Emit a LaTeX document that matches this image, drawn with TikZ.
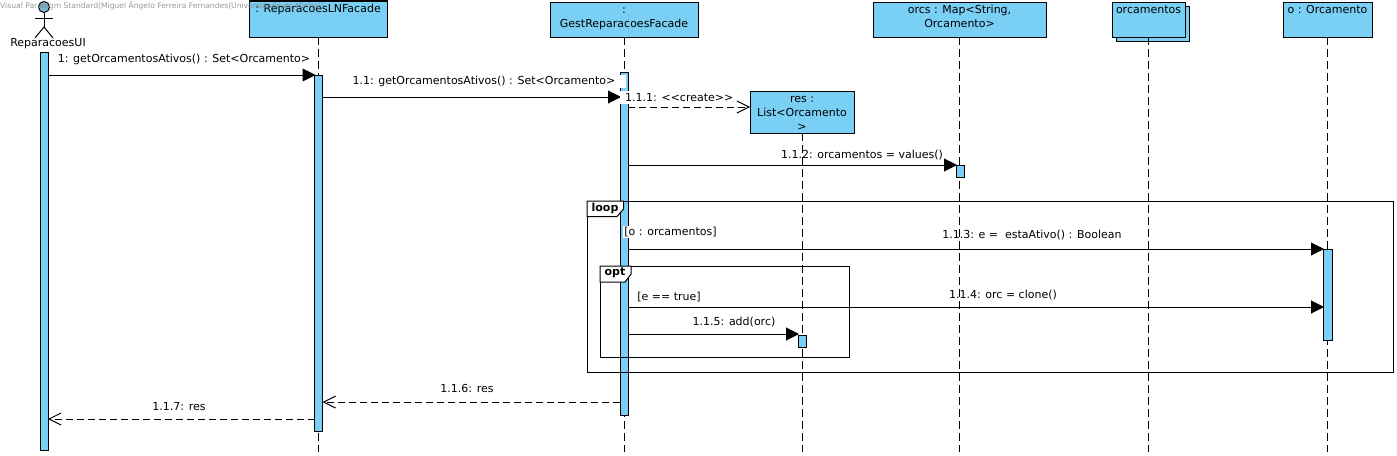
\documentclass[tikz,border=0pt]{standalone}
\usepackage{xcolor}
\usepackage{fontspec}
\setmainfont{DejaVu Sans}
\usetikzlibrary{arrows.meta}
\definecolor{umlblue}{RGB}{122,207,245}
\tikzset{
	lifebox/.style={draw,fill=umlblue,line width=1pt,inner sep=0pt,outer sep=0pt},
	boxtext/.style={anchor=north,align=center,inner sep=0pt,yshift=-1.2pt,font=\fontsize{11}{14}\selectfont},
	bar/.style={draw,fill=umlblue,line width=1pt,inner sep=0pt,outer sep=0pt,anchor=north,minimum width=8pt},
	lifeline/.style={line width=1pt,dash pattern=on 8pt off 4pt},
	syncmsg/.style={line width=1pt,shorten >=-1pt,-{Triangle[length=13pt,width=13pt]}},
	retmsg/.style={line width=1pt,dashed,dash pattern=on 7pt off 4pt,-{Straight Barb[length=12pt,width=12pt,line width=1pt]}},
	msg/.style={font=\fontsize{11}{12}\selectfont,inner sep=1pt,yshift=-0.7pt},
	framebox/.style={draw,line width=1pt,inner sep=0pt,outer sep=0pt,anchor=north west},
	tagtext/.style={font=\fontsize{11}{12}\selectfont\bfseries,inner sep=0pt},
}
\begin{document}
\begin{tikzpicture}[x=1pt,y=-1pt]
	\useasboundingbox (0,0) rectangle (1397,455);
	\fill[white] (0,0) rectangle (1397,455);
	% boxes
	\node[lifebox,minimum width=138pt,minimum height=36pt,label={[boxtext]north:{\strut : ReparacoesLNFacade}}] (lnBox) at (318,19) {};
	\node[lifebox,minimum width=148pt,minimum height=35pt,label={[boxtext]north:{\strut :\\GestReparacoesFacade}}] (gestBox) at (624,19.5) {};
	\node[lifebox,minimum width=173pt,minimum height=35pt,label={[boxtext]north:{\strut orcs : Map<String,\\Orcamento>}}] (orcsBox) at (959.5,19.5) {};
	\node[lifebox,minimum width=73pt,minimum height=35pt] (backBox) at (1152.5,23.5) {};
	\node[lifebox,minimum width=73pt,minimum height=35pt,label={[boxtext]north:{\strut orcamentos}}] (orcamentosBox) at (1148.5,19.5) {};
	\node[lifebox,minimum width=89pt,minimum height=35pt,label={[boxtext]north:{\strut o : Orcamento}}] (oBox) at (1327.5,19.5) {};
	\node[lifebox,minimum width=104pt,minimum height=42pt,label={[boxtext]north:{\strut res :\\List<Orcamento\\>}}] (resBox) at (802,112) {};
	% actor
	\node[draw,fill=umlblue!70!gray,circle,line width=1pt,minimum size=11pt,inner sep=0pt] (uiHead) at (44,7) {};
	\node[font=\fontsize{11}{12}\selectfont,inner sep=0pt] (uiName) at (48,44) {ReparacoesUI};
	\coordinate (uiNeck) at (44,27);
	\draw[line width=1pt] (uiHead.south)--(uiNeck);
	\draw[line width=1pt] (35,18)--(53,18);
	\draw[line width=1pt] (35,38)--(uiNeck)--(53,38);
	% lifelines
	\coordinate (lineEnd) at (0,452);
	\draw[lifeline] (lnBox.south)--(lnBox.south |- lineEnd);
	\draw[lifeline] (gestBox.south)--(gestBox.south |- lineEnd);
	\draw[lifeline] (orcsBox.south)--(orcsBox.south |- lineEnd);
	\draw[lifeline] (orcamentosBox.south)--(orcamentosBox.south |- lineEnd);
	\draw[lifeline] (oBox.south)--(oBox.south |- lineEnd);
	\draw[lifeline] (resBox.south)--(resBox.south |- lineEnd);
	% activation bars
	\node[bar,minimum height=398pt] (uiBar) at (44,52) {};
	\node[bar,minimum height=356pt] (lnBar) at (318.5,75) {};
	\node[bar,minimum height=343pt] (gestBar) at (624,72) {};
	\node[bar,minimum height=12pt] (orcsBar) at (960,165) {};
	\node[bar,minimum height=91pt,minimum width=9pt] (oBar) at (1327.5,249) {};
	\node[bar,minimum height=12pt] (resBar) at (802,335) {};
	% frames
	\node[framebox,minimum width=806pt,minimum height=171pt] (loopFrame) at (587,201) {};
	\node[framebox,minimum width=249pt,minimum height=91pt] (optFrame) at (600,266) {};
	\draw[line width=1pt,fill=white] (loopFrame.north west)--(623.5,201)--(623.5,209)--(617,216.5)--(587,216.5)--cycle;
	\node[tagtext] (loopTag) at (605,208) {loop};
	\draw[line width=1pt,fill=white] (optFrame.north west)--(631,266)--(631,274)--(625,282)--(600,282)--cycle;
	\node[tagtext] (optTag) at (615,273) {opt};
	% message rows
	\coordinate (row1) at (0,75);
	\coordinate (row2) at (0,97);
	\coordinate (row3) at (0,107);
	\coordinate (row4) at (0,165);
	\coordinate (row5) at (0,249);
	\coordinate (row6) at (0,307);
	\coordinate (row7) at (0,334);
	\coordinate (row8) at (0,402);
	\coordinate (row9) at (0,419);
	% labels
	\node[msg] (m1) at (184,59) {1: getOrcamentosAtivos() : Set<Orcamento>};
	\node[msg,fill=white,anchor=east] (m2) at (626.5,81) {1.1: getOrcamentosAtivos() : Set<Orcamento>\hspace*{10pt}};
	\node[msg] (m4) at (862,154) {1.1.2: orcamentos = values()};
	\node[msg,fill=white] (loopGuard) at (670.5,231) {[o : orcamentos]};
	\node[msg] (m5) at (1032,234) {1.1.3: e =\ \ estaAtivo() : Boolean};
	\node[msg] (optGuard) at (669,296) {[e == true]};
	\node[msg] (m6) at (1003,294) {1.1.4: orc = clone()};
	\node[msg] (m7) at (734,321) {1.1.5: add(orc)};
	\node[msg] (m8) at (467,388) {1.1.6: res};
	\node[msg] (m9) at (179,406) {1.1.7: res};
	% messages
	\draw[syncmsg] (uiBar.east |- row1)--(lnBar.west |- row1);
	\draw[syncmsg] (lnBar.east |- row2)--(gestBar.west |- row2);
	\draw[retmsg] (gestBar.east |- row3)--(resBox.west |- row3);
	\draw[syncmsg] (gestBar.east |- row4)--(orcsBar.west |- row4);
	\draw[syncmsg] (gestBar.east |- row5)--(oBar.west |- row5);
	\draw[syncmsg] (gestBar.east |- row6)--(oBar.west |- row6);
	\draw[syncmsg] (gestBar.east |- row7)--(resBar.west |- row7);
	\draw[retmsg] (gestBar.west |- row8)--(lnBar.east |- row8);
	\draw[retmsg] (lnBar.west |- row9)--(uiBar.east |- row9);
	\node[msg,fill=white,anchor=west,minimum height=13pt] (m3) at (620,97) {\hspace*{4pt}1.1.1: <{}<create>{}>};
	% watermark
	\node[anchor=west,inner sep=0pt,text=gray,opacity=.8,font=\fontsize{7.6}{8}\selectfont] (stamp) at (0,6) {Visual Paradigm Standard(Miguel Ângelo Ferreira Fernandes(Universidade do Minho))};
\end{tikzpicture}
\end{document}
